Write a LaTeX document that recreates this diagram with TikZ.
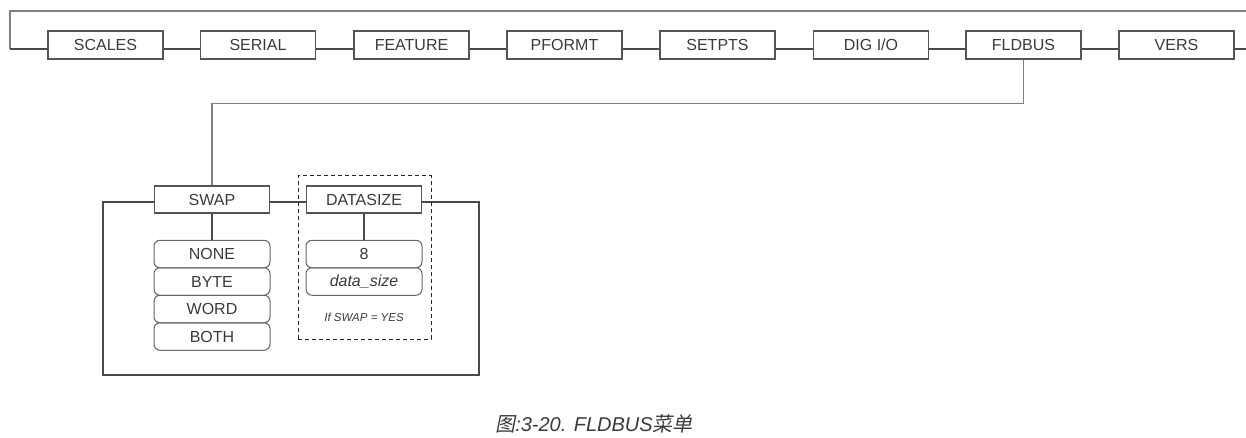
\documentclass[tikz,border=0pt]{standalone}
\usepackage{fontspec}
\setmainfont{Liberation Sans}
\newfontfamily\cjk[FakeSlant=0.2]{Noto Sans CJK SC}
\usetikzlibrary{calc}
\definecolor{boxline}{HTML}{555555}
\definecolor{txt}{HTML}{3A3A3A}
\definecolor{wire}{HTML}{4A4A4A}
\definecolor{lightwire}{HTML}{808080}
\definecolor{optline}{HTML}{666666}
\tikzset{
  menubox/.style={draw=boxline, line width=1.1pt, minimum width=115pt, minimum height=28pt, inner sep=0pt, text=txt, font=\fontsize{16}{18}\selectfont},
  optbox/.style={draw=optline, line width=1pt, rounded corners=6pt, minimum width=116pt, minimum height=27.5pt, inner sep=0pt, text=txt, font=\fontsize{16}{18}\selectfont},
  wireline/.style={draw=wire, line width=1.1pt},
  lightline/.style={draw=lightwire, line width=1.2pt},
}
\begin{document}
\begin{tikzpicture}[x=1pt,y=-1pt]
\useasboundingbox (0,0) rectangle (1246,438);
% top row
\node[menubox] (scales) at (105.5,45) {SCALES};
\node[menubox] (serial) at (258,45) {SERIAL};
\node[menubox] (feature) at (411.5,45) {FEATURE};
\node[menubox] (pformt) at (564.5,45) {PFORMT};
\node[menubox] (setpts) at (717.5,45) {SETPTS};
\node[menubox] (digio) at (871,45) {DIG I/O};
\node[menubox] (fldbus) at (1023.5,45) {FLDBUS};
\node[menubox] (vers) at (1176.5,45) {VERS};
\coordinate (loopL) at (10,11);
\coordinate (loopR) at (1246,11);
\coordinate (outR) at (1246,49);
\draw[lightline] (loopR) -- (loopL) -- (10,49);
\draw[wireline] (10,49) -- ([yshift=-4pt]scales.west);
\draw[wireline] ([yshift=-4pt]scales.east) -- ([yshift=-4pt]serial.west);
\draw[wireline] ([yshift=-4pt]serial.east) -- ([yshift=-4pt]feature.west);
\draw[wireline] ([yshift=-4pt]feature.east) -- ([yshift=-4pt]pformt.west);
\draw[wireline] ([yshift=-4pt]pformt.east) -- ([yshift=-4pt]setpts.west);
\draw[wireline] ([yshift=-4pt]setpts.east) -- ([yshift=-4pt]digio.west);
\draw[wireline] ([yshift=-4pt]digio.east) -- ([yshift=-4pt]fldbus.west);
\draw[wireline] ([yshift=-4pt]fldbus.east) -- ([yshift=-4pt]vers.west);
\draw[wireline] ([yshift=-4pt]vers.east) -- (outR);
% sub menu
\node[menubox, minimum height=27pt] (swap) at (212,199.5) {SWAP};
\node[menubox, minimum height=27pt] (datasize) at (364,199.5) {DATASIZE};
\draw[lightline] (fldbus.south) -- ++(0,44) -| (swap.north);
\draw[wireline] ([yshift=-2.5pt]swap.east) -- ([yshift=-2.5pt]datasize.west);
\draw[wireline] ([yshift=-2.5pt]datasize.east) -- (479,202) -- (479,375) -- (103,375) -- (103,202) -- ([yshift=-2.5pt]swap.west);
% dashed group
\node[draw=black!85, dash pattern=on 4pt off 3pt, line width=1pt, minimum width=133pt, minimum height=163pt, inner sep=0pt] (group) at (364.5,257.5) {};
% options
\node[optbox] (none) at (212,254) {NONE};
\node[optbox] (byte) at (212,281.5) {BYTE};
\node[optbox] (word) at (212,309) {WORD};
\node[optbox] (both) at (212,336.5) {BOTH};
\node[optbox] (eight) at (364,254) {8};
\node[optbox] (dsize) at (364,281.5) {\itshape data\_size};
\node[text=txt, font=\itshape\fontsize{11.5}{13}\selectfont] (cond) at (364,317) {If SWAP = YES};
\draw[wireline] (swap.south) -- (none.north);
\draw[wireline] (datasize.south) -- (eight.north);
% caption
\node[text=txt, font=\fontsize{20}{22}\selectfont] (caption) at (594,424) {{\cjk 图}\itshape :3-20. FLDBUS{\cjk 菜单}};
\end{tikzpicture}
\end{document}
